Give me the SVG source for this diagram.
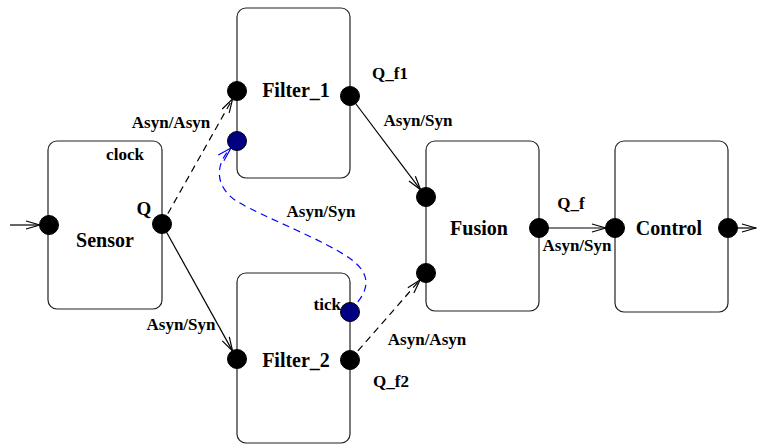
<svg xmlns="http://www.w3.org/2000/svg" width="757" height="444" viewBox="0 0 757 444">
<style>
.box{fill:#fff;stroke:#222;stroke-width:1.2}
.port{fill:#000;stroke:#000;stroke-width:1}
.bport{fill:#000080;stroke:#000;stroke-width:1}
.name{font-family:"Liberation Serif",serif;font-weight:bold;font-size:20px;fill:#000;text-anchor:middle}
.lbl{font-family:"Liberation Serif",serif;font-weight:bold;font-size:17px;fill:#000;text-anchor:middle}
.c{stroke:#000;stroke-width:1.2;fill:none}
.d{stroke-dasharray:7,5}
.blue{stroke:#0000ff;stroke-width:1.2;fill:none;stroke-dasharray:7,5}
</style>
<defs>
<marker id="ah" markerUnits="userSpaceOnUse" markerWidth="16" markerHeight="10" refX="15" refY="5" orient="auto" viewBox="0 0 16 10"><path d="M1,1 L15,5 L1,9" fill="none" stroke="#000" stroke-width="1.2"/></marker>
<marker id="bh" markerUnits="userSpaceOnUse" markerWidth="16" markerHeight="10" refX="15" refY="5" orient="auto" viewBox="0 0 16 10"><path d="M1,1 L15,5 L1,9" fill="none" stroke="#0000ff" stroke-width="1.2"/></marker>
</defs>
<g id="connectors">
<line class="c" x1="10" y1="225" x2="40" y2="225" marker-end="url(#ah)"/>
<line class="c d" x1="162" y1="224" x2="232.6" y2="98.8" marker-end="url(#ah)"/>
<line class="c" x1="162" y1="224" x2="232.6" y2="351.1" marker-end="url(#ah)"/>
<line class="c" x1="350" y1="96" x2="420.6" y2="189.8" marker-end="url(#ah)"/>
<line class="c d" x1="350" y1="360" x2="420.1" y2="279.8" marker-end="url(#ah)"/>
<line class="c" x1="539" y1="228" x2="606" y2="228" marker-end="url(#ah)"/>
<line class="c" x1="728" y1="228" x2="756" y2="228" marker-end="url(#ah)"/>
<path class="blue" d="M350,311 C362,298 378,280 352,260 C325,240 265,218 238,202 C215,188 214,165 231,148" marker-end="url(#bh)"/>
</g>
<g id="sensor">
<rect class="box" x="48" y="141" width="114" height="168" rx="9"/>
<circle class="port" cx="49" cy="225" r="9.5"/>
<circle class="port" cx="162" cy="224" r="9.5"/>
<text class="name" x="105" y="247">Sensor</text>
<text class="lbl" x="125" y="160">clock</text>
<text class="lbl" x="144" y="215" style="font-size:19px">Q</text>
</g>
<g id="filter1">
<rect class="box" x="237" y="8" width="113" height="170" rx="9"/>
<circle class="port" cx="237" cy="91" r="9.5"/>
<circle class="bport" cx="237" cy="141" r="9.5"/>
<circle class="port" cx="350" cy="96" r="9.5"/>
<text class="name" x="296" y="97">Filter_1</text>
<text class="lbl" x="390" y="79">Q_f1</text>
</g>
<g id="filter2">
<rect class="box" x="237" y="273" width="113" height="170" rx="9"/>
<circle class="port" cx="237" cy="359" r="9.5"/>
<circle class="bport" cx="350" cy="312" r="9.5"/>
<circle class="port" cx="350" cy="360" r="9.5"/>
<text class="name" x="296" y="367">Filter_2</text>
<text class="lbl" x="341" y="310" style="text-anchor:end">tick</text>
<text class="lbl" x="391" y="387">Q_f2</text>
</g>
<g id="fusion">
<rect class="box" x="426" y="141" width="113" height="170" rx="9"/>
<circle class="port" cx="426" cy="197" r="9.5"/>
<circle class="port" cx="426" cy="273" r="9.5"/>
<circle class="port" cx="539" cy="228" r="9.5"/>
<text class="name" x="479" y="235">Fusion</text>
</g>
<g id="control">
<rect class="box" x="615" y="141" width="113" height="171" rx="9"/>
<circle class="port" cx="615" cy="228" r="9.5"/>
<circle class="port" cx="728" cy="228" r="9.5"/>
<text class="name" x="669" y="235">Control</text>
</g>
<g id="labels">
<text class="lbl" x="171" y="128">Asyn/Asyn</text>
<text class="lbl" x="418" y="126">Asyn/Syn</text>
<text class="lbl" x="321" y="217">Asyn/Syn</text>
<text class="lbl" x="181" y="330">Asyn/Syn</text>
<text class="lbl" x="427" y="345">Asyn/Asyn</text>
<text class="lbl" x="571" y="209">Q_f</text>
<text class="lbl" x="577" y="251">Asyn/Syn</text>
</g>
</svg>
